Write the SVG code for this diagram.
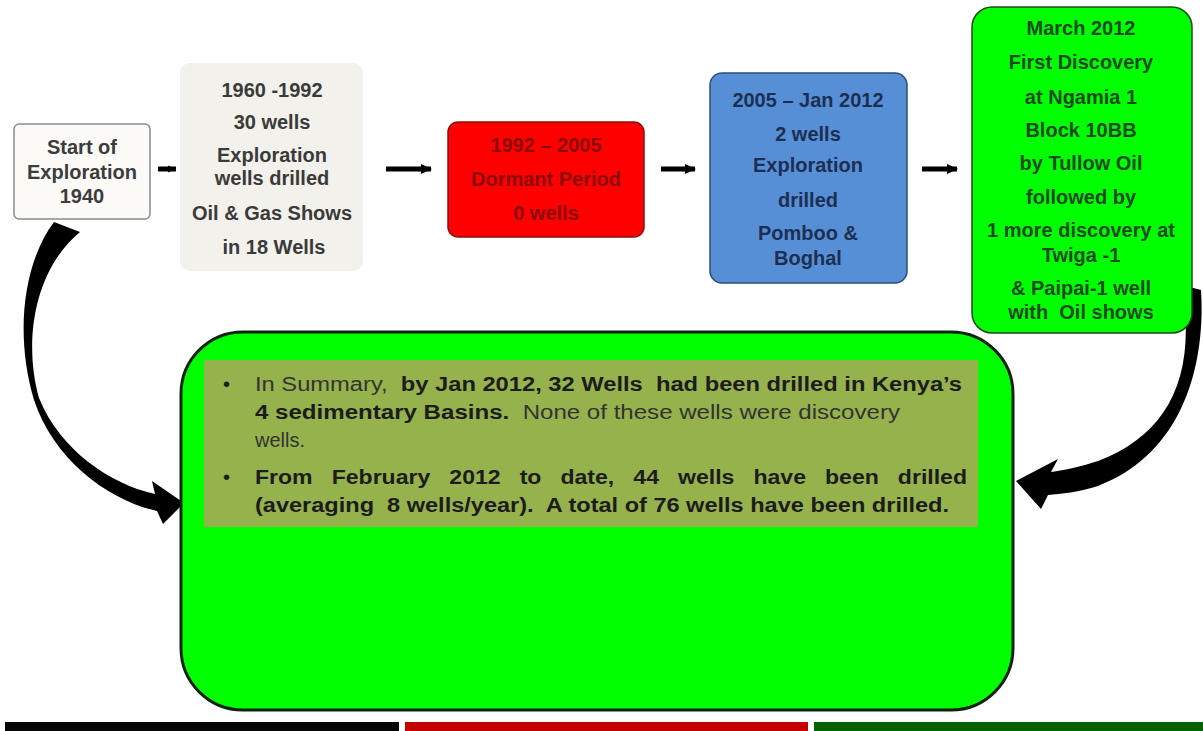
<svg xmlns="http://www.w3.org/2000/svg" width="1203" height="731" viewBox="0 0 1203 731">
<style>
.t{font-family:"Liberation Sans",Arial,sans-serif;font-weight:bold;font-size:20px;text-anchor:middle}
.s{font-family:"Liberation Sans",Arial,sans-serif;font-size:20px;fill:#1c1c1c}
.b{font-weight:bold}
.n{fill:#333}
.ar{stroke:#000;stroke-width:5;fill:none}
</style>
<defs>
<marker id="ah" markerUnits="userSpaceOnUse" markerWidth="12" markerHeight="12" refX="10" refY="6" orient="auto">
<path d="M0,1 L11,6 L0,11 z" fill="#000"/>
</marker>
<marker id="ahs" markerUnits="userSpaceOnUse" markerWidth="9" markerHeight="9" refX="8" refY="4.5" orient="auto">
<path d="M0,1 L8,4.5 L0,8 z" fill="#000"/>
</marker>
</defs>
<rect width="1203" height="731" fill="#fff"/>

<g id="connectors">
<line class="ar" x1="158" y1="169" x2="176" y2="169" stroke-width="4" marker-end="url(#ahs)"/>
<line class="ar" x1="386" y1="169" x2="431" y2="169" marker-end="url(#ah)"/>
<line class="ar" x1="661" y1="169" x2="695" y2="169" marker-end="url(#ah)"/>
<line class="ar" x1="922" y1="169" x2="957" y2="169" marker-end="url(#ah)"/>
<path id="curve-left" d="M54 222 C24 262 14 332 34 400 C54 460 108 500 157 511 L163 524 L184 503 L152 481 L155 494 C110 484 60 450 39 398 C24 345 32 272 80 232 Z" fill="#000"/>
<path id="curve-right" d="M1182 285 L1201 290 C1206 370 1180 455 1098 486 C1080 492 1060 494 1048 495 L1041 509 L1016 481 L1058 459 L1051 472 C1065 470 1080 467 1098 461 C1163 436 1194 385 1184 300 Z" fill="#000"/>
</g>

<g id="node-start">
<rect x="14" y="124" width="136" height="95" rx="5" fill="#fbfaf6" stroke="#8c8c8c" stroke-width="1.5"/>
<text class="t" fill="#3c3c3c"><tspan x="82" y="154">Start of</tspan><tspan x="82" y="179">Exploration</tspan><tspan x="82" y="203">1940</tspan></text>
</g>

<g id="node-1960">
<rect x="180" y="63" width="183" height="208" rx="10" fill="#f2f1eb"/>
<text class="t" fill="#3a3a3a"><tspan x="272" y="97">1960 -1992</tspan><tspan x="272" y="129">30 wells</tspan><tspan x="272" y="162">Exploration</tspan><tspan x="272" y="185">wells drilled</tspan><tspan x="272" y="220">Oil &amp; Gas Shows</tspan><tspan x="274" y="254">in 18 Wells</tspan></text>
</g>

<g id="node-1992">
<rect x="448" y="122" width="196" height="115" rx="10" fill="#ff0000" stroke="#8a1010" stroke-width="1.5"/>
<text class="t" fill="#8b0a0a"><tspan x="546" y="152">1992 – 2005</tspan><tspan x="546" y="186">Dormant Period</tspan><tspan x="546" y="220">0 wells</tspan></text>
</g>

<g id="node-2005">
<rect x="710" y="73" width="197" height="210" rx="12" fill="#578fd7" stroke="#2c4c7c" stroke-width="1.5"/>
<text class="t" fill="#1c2f52"><tspan x="808" y="107">2005 – Jan 2012</tspan><tspan x="808" y="141">2 wells</tspan><tspan x="808" y="172">Exploration</tspan><tspan x="808" y="207">drilled</tspan><tspan x="808" y="240">Pomboo &amp;</tspan><tspan x="808" y="265">Boghal</tspan></text>
</g>

<g id="node-2012">
<rect x="972" y="7" width="220" height="326" rx="20" fill="#00ff00" stroke="#1c4a1c" stroke-width="1.5"/>
<text class="t" fill="#1d4a1d" xml:space="preserve"><tspan x="1081" y="35">March 2012</tspan><tspan x="1081" y="69">First Discovery</tspan><tspan x="1081" y="104">at Ngamia 1</tspan><tspan x="1081" y="137">Block 10BB</tspan><tspan x="1081" y="170">by Tullow Oil</tspan><tspan x="1081" y="204">followed by</tspan><tspan x="1081" y="237">1 more discovery at</tspan><tspan x="1081" y="262">Twiga -1</tspan><tspan x="1081" y="295">&amp; Paipai-1 well</tspan><tspan x="1081" y="319">with  Oil shows</tspan></text>
</g>

<g id="node-summary">
<rect x="181" y="332" width="832" height="378" rx="62" fill="#00ff00" stroke="#0c240c" stroke-width="3"/>
<rect x="204" y="360" width="774" height="167" fill="#95b24c"/>
<text class="s" x="223" y="391">•</text>
<text class="s" x="255" y="391" textLength="707" lengthAdjust="spacingAndGlyphs" xml:space="preserve"><tspan class="n">In Summary,  </tspan><tspan class="b">by Jan 2012, 32 Wells  had been drilled in Kenya’s</tspan></text>
<text class="s" x="255" y="419" textLength="645" lengthAdjust="spacingAndGlyphs" xml:space="preserve"><tspan class="b">4 sedimentary Basins.</tspan><tspan class="n">  None of these wells were discovery</tspan></text>
<text class="s n" x="255" y="447">wells.</text>
<text class="s" x="223" y="484">•</text>
<text class="s b" x="255" y="484" word-spacing="11" textLength="712" lengthAdjust="spacingAndGlyphs">From February 2012 to date, 44 wells have been drilled</text>
<text class="s b" x="255" y="512" textLength="694" lengthAdjust="spacingAndGlyphs" xml:space="preserve">(averaging  8 wells/year).  A total of 76 wells have been drilled.</text>
</g>

<g id="flag-bars">
<rect x="5" y="722" width="394" height="9" fill="#050505"/>
<rect x="405" y="722" width="403" height="9" fill="#c40000"/>
<rect x="814" y="722" width="389" height="9" fill="#016201"/>
</g>
</svg>
